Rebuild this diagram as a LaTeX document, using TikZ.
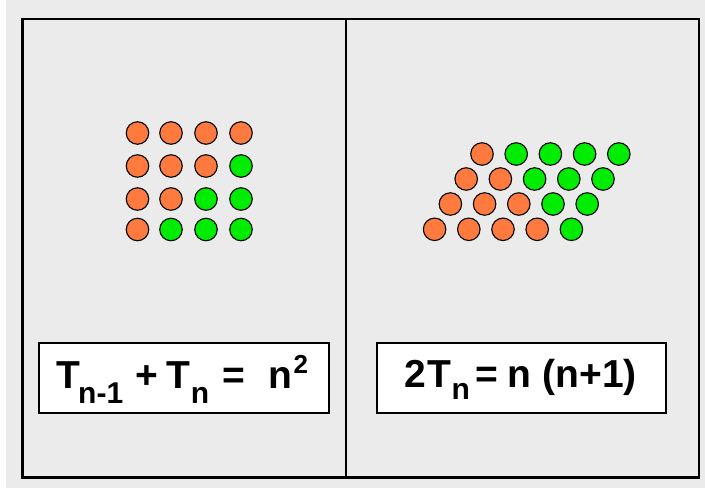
\documentclass[tikz,border=0pt]{standalone}
\usepackage{fontspec}
\setmainfont{Liberation Sans}
\definecolor{dotorange}{RGB}{255,122,62}
\definecolor{dotgreen}{RGB}{0,236,0}
\definecolor{bggray}{RGB}{235,235,235}
\newcommand\mysub[2]{\lower#1pt\hbox{\fontsize{30}{30}\selectfont #2}}
\newcommand\mysup[1]{\raise15pt\hbox{\fontsize{26}{26}\selectfont #1}}
\tikzset{
  dotbase/.style={circle, draw=black, line width=1.1pt, minimum size=22.5pt, inner sep=0pt},
  odot/.style={dotbase, fill=dotorange},
  gdot/.style={dotbase, fill=dotgreen},
  frameline/.style={draw=black, line width=2.4pt},
  formulabox/.style={draw=black, line width=1.8pt, fill=white},
  formulatext/.style={anchor=base west, inner sep=0pt, font=\fontsize{39}{42}\selectfont\bfseries}
}
\begin{document}
\begin{tikzpicture}[x=1pt,y=-1pt]
  \useasboundingbox (0,0) rectangle (705,488);
  \fill[bggray] (0,0) rectangle (705,488);
  \fill[white] (0,0) rectangle (6,488);
  % frame
  \draw[frameline] (22.5,18.7) rectangle (698.7,477.3);
  \coordinate (divtop) at (346.2,18.7);
  \coordinate (divbot) at (346.2,477.3);
  \draw[frameline] (divtop) -- (divbot);
  % left square of dots
  \foreach \r/\yy in {0/133,1/166,2/199,3/229.5}{
    \foreach \c/\xx in {0/137.5,1/171,2/206,3/241}{
      \pgfmathtruncatemacro\s{\r+\c}
      \ifnum\s>3 \def\st{gdot}\else\def\st{odot}\fi
      \node[\st] (L\r\c) at (\xx,\yy) {};
    }
  }
  % right parallelogram of dots
  \foreach \r/\yy in {0/154,1/179,2/204,3/229.3}{
    \foreach \c in {0,...,4}{
      \pgfmathsetmacro\xx{482-15.8*\r+34.2*\c}
      \ifnum\c>\r \def\st{gdot}\else\def\st{odot}\fi
      \node[\st] (R\r\c) at (\xx,\yy) {};
    }
  }
  % formula boxes
  \node[formulabox, minimum width=290pt, minimum height=70.6pt] (leftbox) at (184.3,378) {};
  \node[formulabox, minimum width=288.7pt, minimum height=70.6pt] (rightbox) at (521.7,378) {};
  \node[formulatext] (lefttext) at (56.2,388.5)
    {T\hspace{-2pt}\mysub{15}{n-1}\hspace{12pt}+\hspace{9pt}T\mysub{15}{n}\hspace{13.5pt}=\hspace{23pt}n\hspace{1.5pt}\mysup{2}};
  \node[formulatext] (righttext) at (404,387.5)
    {2\hspace{2pt}T\mysub{12}{n}\hspace{5pt}=\hspace{10pt}n (n+1)};
\end{tikzpicture}
\end{document}
